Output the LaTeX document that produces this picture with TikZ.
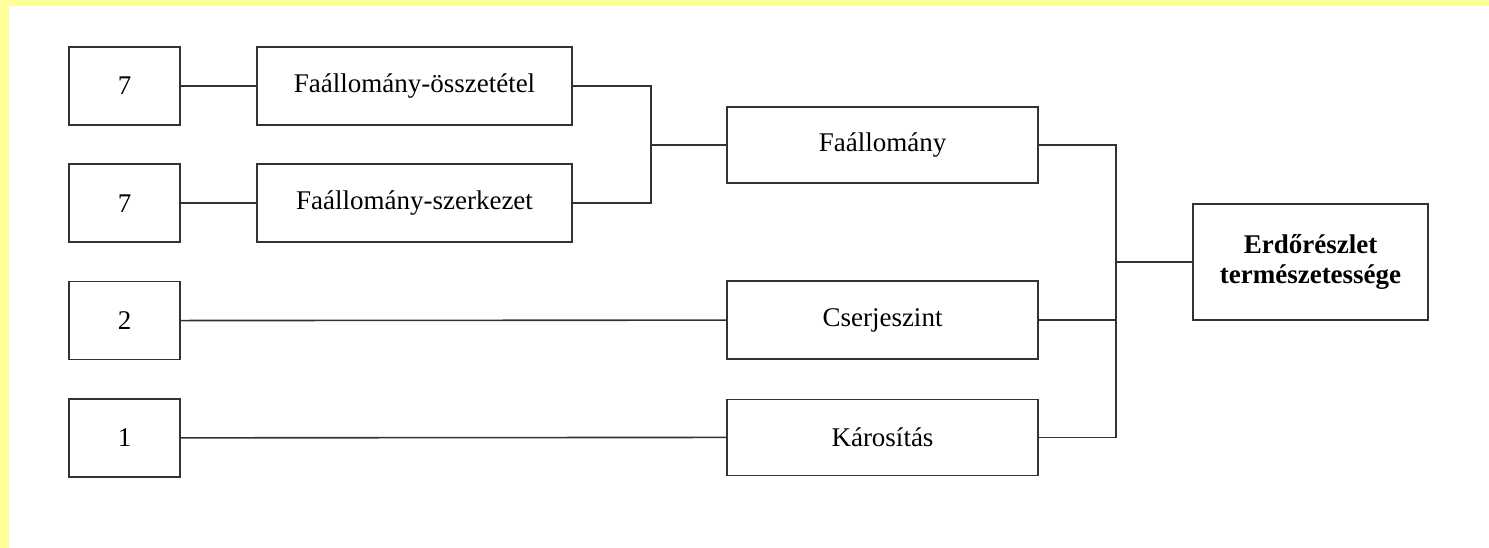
\documentclass[tikz,border=0pt]{standalone}
\usepackage{fontspec}
\setmainfont{Liberation Serif}
\usepackage{tikz}
\definecolor{bgyellow}{HTML}{FFFF99}
\definecolor{linegray}{HTML}{333333}

\begin{document}
\begin{tikzpicture}[x=1pt,y=-1pt,node distance=117.3pt,line width=1.6pt,draw=linegray,
                    main node/.style={rectangle,draw=linegray,inner sep=0pt,minimum height=78pt,
                      font=\fontsize{27}{30}\selectfont},
                    small node/.style={main node,minimum width=111pt},
                    wide node/.style={main node,minimum width=315pt},
                    mid node/.style={main node,minimum width=311pt}]

  % background
  \fill[bgyellow] (0,0) rectangle (1489,548);
  \fill[white] (9,6) rectangle (1489,548);

  \node[small node] (1) at (124.5,86) {7};
  \node[small node] (2) [below of=1] {7};
  \node[small node] (3) [below of=2] {2};
  \node[small node] (4) [below of=3] {1};
  \node[wide node] (5) at (414.5,86) {Faállomány-összetétel};
  \node[wide node] (6) [below of=5] {Faállomány-szerkezet};
  \node[mid node,minimum height=76pt] (7) at (882.5,145) {Faállomány};
  \node[mid node] (8) at (882.5,320) {Cserjeszint};
  \node[mid node,minimum height=76pt] (9) [below of=8] {Károsítás};
  \node[main node,minimum width=235pt,minimum height=116pt,align=center,
        font=\fontsize{27}{30}\selectfont\bfseries] (10) at (1310.5,262)
        {Erdőrészlet\\természetessége};

  \coordinate (j1) at (651,145);
  \coordinate (j2) at (1116,262);

  \draw (1) -- (5);
  \draw (2) -- (6);
  \draw (3) -- (8);
  \draw (4) -- (9);
  \draw (5.east) -| (j1) |- (6.east);
  \draw (j1) -- (7.west);
  \draw (7.east) -| (j2) |- (9.east);
  \draw (8.east) -- (8.east -| j2);
  \draw (j2) -- (10.west);
\end{tikzpicture}
\end{document}
